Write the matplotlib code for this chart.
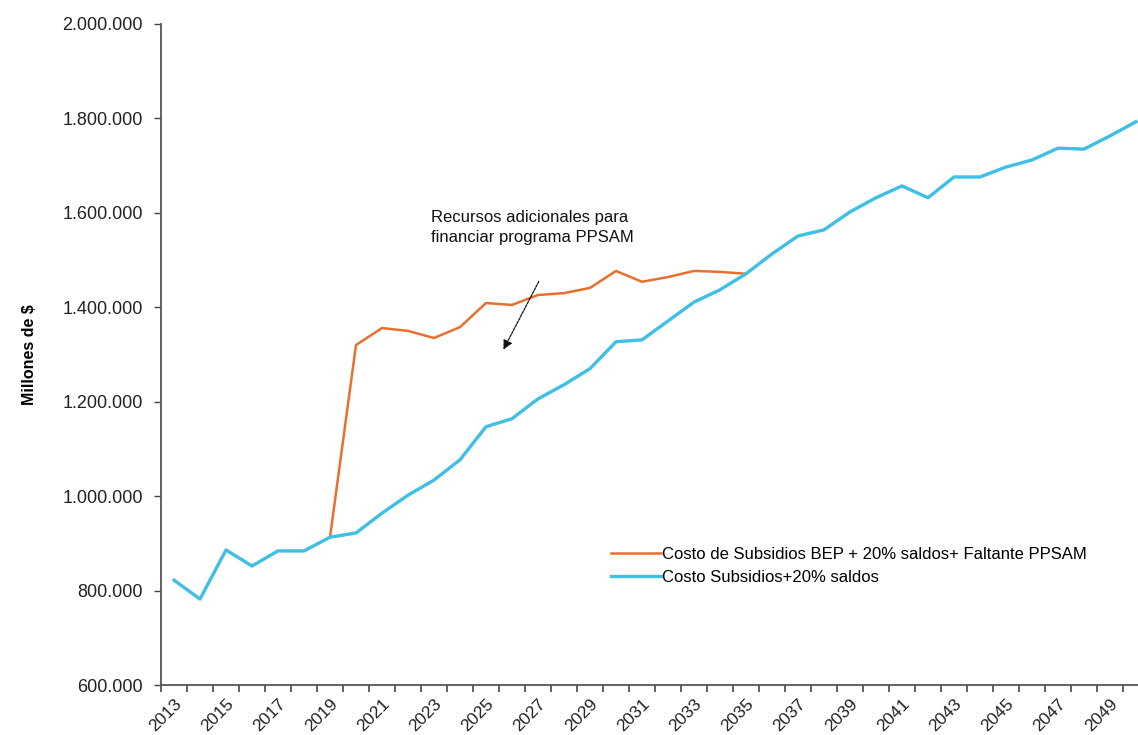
import matplotlib
matplotlib.use('Agg')
import matplotlib.pyplot as plt
import numpy as np

plt.rcParams['font.family'] = ['Liberation Sans', 'DejaVu Sans']

# years on the category axis
years = list(range(2013, 2051))

# Costo Subsidios+20% saldos
base = [822000, 782000, 886000, 852000, 884000, 884000, 913000, 922000,
        964000, 1002000, 1034000, 1077000, 1147000, 1164000, 1206000, 1236000,
        1270000, 1327000, 1331000, 1371000, 1411000, 1437000, 1471000, 1513000,
        1551000, 1564000, 1602000, 1632000, 1657000, 1632000, 1676000, 1676000,
        1697000, 1712000, 1737000, 1735000, 1763000, 1793000]

# Costo de Subsidios BEP + 20% saldos+ Faltante PPSAM (2019-2035)
ppsam_years = list(range(2019, 2036))
ppsam = [913000, 1320000, 1356000, 1350000, 1335000, 1358000, 1409000, 1405000,
         1426000, 1430000, 1441000, 1477000, 1454000, 1464000, 1477000, 1475000,
         1471000]

orange = '#E8702E'
blue = '#3DBFE6'

x = np.arange(len(years))
x_ppsam = [years.index(a) for a in ppsam_years]

fig = plt.figure(figsize=(11.38, 7.35), dpi=100)
ax = fig.add_axes([161/1138, 50/735, 988/1138, 661/735])

l1, = ax.plot(x_ppsam, ppsam, color=orange, lw=1.8, zorder=2,
              label='Costo de Subsidios BEP + 20% saldos+ Faltante PPSAM')
l2, = ax.plot(x, base, color=blue, lw=2.4, zorder=3,
              label='Costo Subsidios+20% saldos')

ax.set_xlim(-0.5, len(years) - 0.5)
ax.set_ylim(600000, 2000000)
ax.set_yticks(np.arange(600000, 2000001, 200000))
ax.yaxis.set_major_formatter(matplotlib.ticker.FuncFormatter(
    lambda v, p: '{:,.0f}'.format(v).replace(',', '.')))

# labels every other year at category centres, tick marks at boundaries
ax.set_xticks(x[::2])
ax.set_xticklabels([str(a) for a in years[::2]], rotation=45, ha='right',
                   rotation_mode='anchor')
ax.set_xticks(np.arange(-0.5, len(years)), minor=True)
ax.tick_params(axis='x', which='major', length=0, pad=8, labelsize=12.5,
               colors='#222222')
ax.tick_params(axis='x', which='minor', length=5, width=1.2, color='#444444')
ax.tick_params(axis='y', length=5, width=1, color='#444444', labelsize=13,
               labelcolor='#222222', pad=8)

for s in ['top', 'right']:
    ax.spines[s].set_visible(False)
for s in ['left', 'bottom']:
    ax.spines[s].set_color('#555555')
    ax.spines[s].set_linewidth(1.3)

ax.set_ylabel('Millones de $', fontsize=11.5, fontweight='bold', labelpad=18)

ax.text(9.9, 1605000, 'Recursos adicionales para\nfinanciar programa PPSAM',
        fontsize=12, va='top', ha='left', linespacing=1.35, color='#111111')
ax.annotate('', xy=(12.62, 1305000), xytext=(14.08, 1460000),
            arrowprops=dict(arrowstyle='-|>', lw=0.9, ls=(0, (2, 1)),
                            color='#111111', mutation_scale=14))

ax.legend(handles=[l1, l2], loc='center left', frameon=False, fontsize=12,
          bbox_to_anchor=(604/1138, (735 - 566)/735),
          bbox_transform=fig.transFigure, handlelength=3.0, handletextpad=0.1,
          labelspacing=0.5, borderaxespad=0)

fig.savefig('out.png', dpi=100)
